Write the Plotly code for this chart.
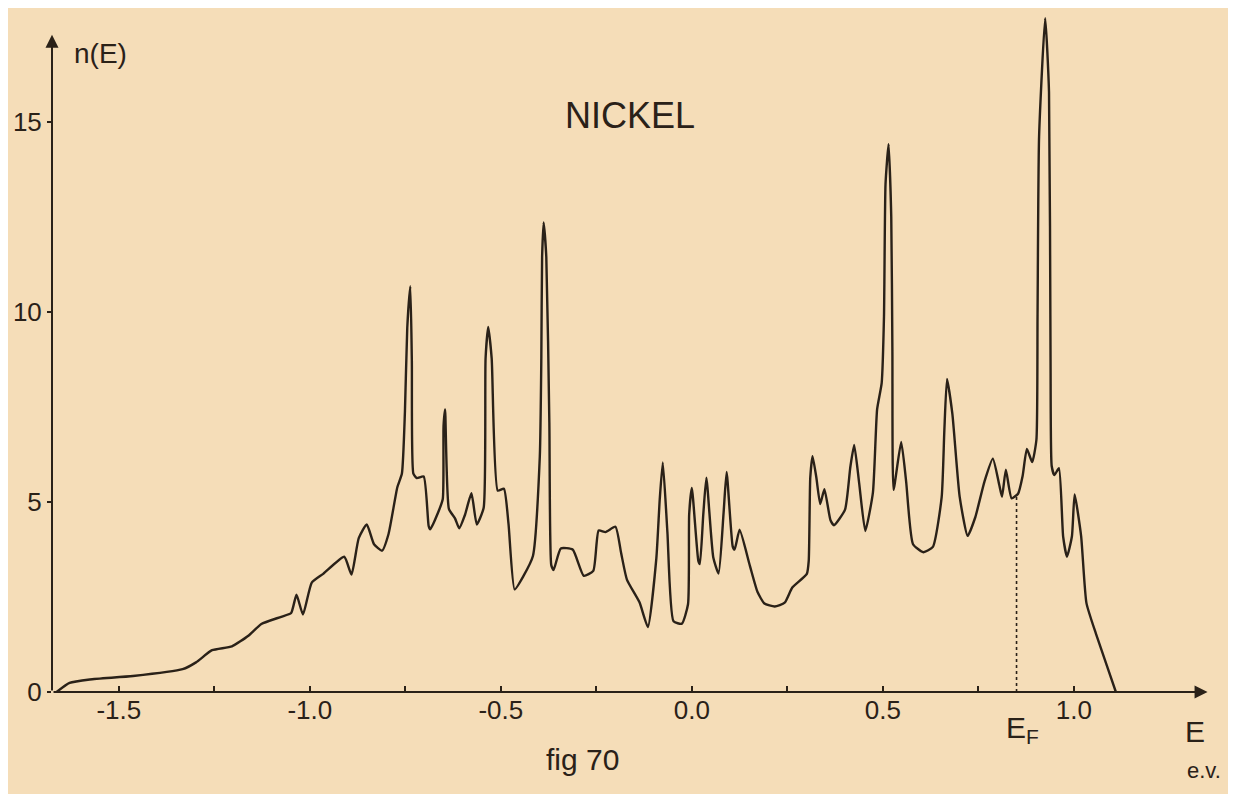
import numpy as np
import plotly.graph_objects as go

# density of states of nickel (E in eV, n(E) in states)
energy = [
    -1.663, -1.629, -1.576, -1.463, -1.333, -1.298, -1.256, -1.204, -1.161, -1.127,
    -1.075, -1.049, -1.035, -1.018, -0.995, -0.965, -0.910, -0.891, -0.872, -0.851,
    -0.832, -0.811, -0.794, -0.771, -0.759, -0.751, -0.745, -0.737, -0.733, -0.729,
    -0.720, -0.702, -0.689, -0.685, -0.664, -0.652, -0.650, -0.646, -0.636, -0.620,
    -0.609, -0.594, -0.577, -0.563, -0.545, -0.540, -0.533, -0.524, -0.508, -0.492,
    -0.480, -0.464, -0.441, -0.416, -0.398, -0.394, -0.392, -0.388, -0.381, -0.373,
    -0.368, -0.362, -0.343, -0.312, -0.283, -0.258, -0.244, -0.226, -0.200, -0.185,
    -0.170, -0.137, -0.115, -0.093, -0.084, -0.076, -0.064, -0.048, -0.026, -0.010,
    -0.007, 0.000, 0.017, 0.021, 0.030, 0.038, 0.056, 0.070, 0.083, 0.091,
    0.107, 0.112, 0.125, 0.152, 0.172, 0.190, 0.217, 0.243, 0.263, 0.301,
    0.306, 0.310, 0.316, 0.326, 0.336, 0.347, 0.363, 0.372, 0.401, 0.415,
    0.425, 0.438, 0.454, 0.474, 0.485, 0.497, 0.503, 0.507, 0.515, 0.522,
    0.525, 0.528, 0.548, 0.561, 0.579, 0.606, 0.631, 0.654, 0.661, 0.668,
    0.682, 0.701, 0.722, 0.742, 0.766, 0.788, 0.805, 0.812, 0.822, 0.837,
    0.854, 0.866, 0.877, 0.891, 0.902, 0.905, 0.909, 0.925, 0.935, 0.939,
    0.942, 0.949, 0.961, 0.972, 0.982, 0.995, 1.002, 1.019, 1.033, 1.058,
    1.086, 1.110,
]
dos = [
    0.00, 0.24, 0.33, 0.42, 0.60, 0.78, 1.10, 1.20, 1.48, 1.79,
    1.98, 2.08, 2.56, 2.04, 2.88, 3.11, 3.56, 3.09, 4.05, 4.41,
    3.89, 3.72, 4.16, 5.39, 5.75, 7.40, 9.59, 10.68, 8.72, 5.75,
    5.63, 5.67, 4.37, 4.28, 4.73, 5.08, 7.00, 7.44, 4.82, 4.57,
    4.31, 4.66, 5.23, 4.41, 4.85, 8.78, 9.61, 8.78, 5.30, 5.35,
    4.43, 2.70, 3.05, 3.58, 6.20, 8.82, 11.44, 12.36, 11.45, 7.09,
    3.34, 3.21, 3.78, 3.75, 3.06, 3.19, 4.25, 4.21, 4.35, 3.65,
    2.96, 2.36, 1.71, 3.51, 5.08, 6.04, 4.21, 1.86, 1.80, 2.31,
    4.67, 5.37, 3.45, 3.37, 4.68, 5.64, 3.55, 3.12, 4.70, 5.79,
    3.83, 3.75, 4.27, 3.32, 2.63, 2.33, 2.25, 2.35, 2.75, 3.11,
    3.46, 5.64, 6.21, 5.64, 4.95, 5.34, 4.52, 4.39, 4.80, 5.93,
    6.50, 5.50, 4.24, 5.25, 7.44, 8.14, 9.89, 13.37, 14.42, 12.51,
    9.00, 5.32, 6.58, 5.54, 3.89, 3.68, 3.82, 5.13, 6.88, 8.24,
    7.32, 5.15, 4.11, 4.60, 5.54, 6.14, 5.44, 5.14, 5.85, 5.10,
    5.22, 5.69, 6.40, 6.05, 6.64, 9.93, 14.62, 17.74, 15.80, 8.76,
    5.95, 5.71, 5.89, 4.09, 3.56, 4.10, 5.20, 4.11, 2.34, 1.53,
    0.71, 0.00,
]
e_fermi = 0.85

x_ticks = [-1.5, -1.25, -1.0, -0.75, -0.5, -0.25, 0.0, 0.25, 0.5, 0.75, 1.0]
x_tick_text = ["-1.5", "", "-1.0", "", "-0.5", "", "0.0", "", "0.5", "", "1.0"]
y_ticks = [0, 5, 10, 15]
y_tick_text = ["0", "5", "10", "15"]

paper = "#F5DDB8"
ink = "#2a2118"
font = "Liberation Sans"
x0 = -1.675  # where the n(E) axis stands

fig = go.Figure()
fig.add_trace(go.Scatter(
    x=energy, y=dos, mode="lines",
    line=dict(color=ink, width=2.4, shape="spline", smoothing=0.5),
    hoverinfo="skip",
))
# dotted line at the Fermi level up to the curve
n_fermi = float(np.interp(e_fermi, energy, dos))
fig.add_trace(go.Scatter(
    x=[e_fermi, e_fermi], y=[0, n_fermi], mode="lines",
    line=dict(color=ink, width=1.6, dash="dot"),
    hoverinfo="skip",
))

# axes drawn as arrows
fig.add_annotation(x=x0, y=17.3, ax=x0, ay=0, xref="x", yref="y", axref="x", ayref="y",
                   text="", showarrow=True, arrowhead=2, arrowsize=1.3, arrowwidth=2, arrowcolor=ink)
fig.add_annotation(x=1.35, y=0, ax=x0, ay=0, xref="x", yref="y", axref="x", ayref="y",
                   text="", showarrow=True, arrowhead=2, arrowsize=1.3, arrowwidth=2, arrowcolor=ink)

fig.add_annotation(x=x0, y=16.8, xref="x", yref="y", xanchor="left", yanchor="middle", xshift=20,
                   text="n(E)", showarrow=False, font=dict(family=font, size=28, color=ink))
fig.add_annotation(x=-0.162, y=15.18, xref="x", yref="y", text="NICKEL", showarrow=False,
                   font=dict(family=font, size=36, color=ink))
fig.add_annotation(x=-0.285, y=-0.126, xref="x", yref="paper", text="fig 70", showarrow=False,
                   font=dict(family=font, size=30, color=ink))
fig.add_annotation(x=e_fermi, y=-0.085, xref="x", yref="paper", xshift=6, text="E<sub>F</sub>",
                   showarrow=False, font=dict(family=font, size=30, color=ink))
fig.add_annotation(x=1.317, y=-0.085, xref="x", yref="paper", text="E", showarrow=False,
                   font=dict(family=font, size=30, color=ink))
fig.add_annotation(x=1.003, y=-0.137, xref="paper", yref="paper", text="e.v.", showarrow=False,
                   font=dict(family=font, size=22, color=ink))

fig.update_layout(
    width=1236, height=794,
    margin=dict(l=44, r=25, t=4, b=110),
    paper_bgcolor=paper, plot_bgcolor=paper,
    showlegend=False,
)
fig.update_xaxes(
    range=[x0, 1.38], tickvals=x_ticks, ticktext=x_tick_text,
    ticks="inside", ticklen=6, tickwidth=2, tickcolor=ink,
    showgrid=False, zeroline=False, showline=False,
    tickfont=dict(family=font, size=26, color=ink),
)
fig.update_yaxes(
    range=[0, 17.9], tickvals=y_ticks, ticktext=y_tick_text,
    ticks="outside", ticklen=4, tickwidth=2, tickcolor=ink,
    showgrid=False, zeroline=False, showline=False,
    tickfont=dict(family=font, size=26, color=ink),
)

fig.write_html("out.html")
